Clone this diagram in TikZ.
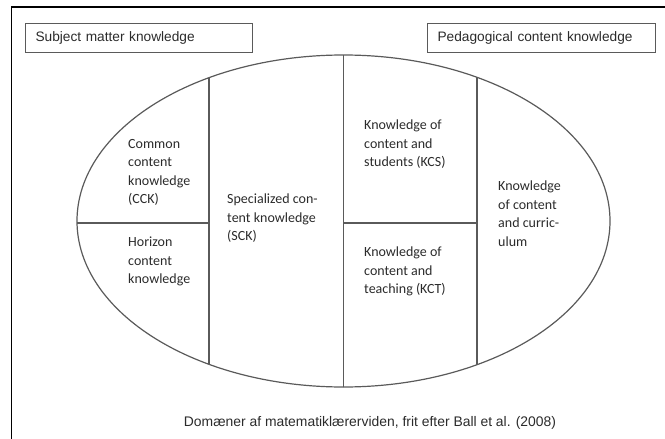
\documentclass[tikz,border=0pt]{standalone}
\usepackage{fontspec}
\setmainfont{Carlito}
\newfontfamily\arialfont{Liberation Sans}
\usetikzlibrary{positioning}
\definecolor{linegray}{HTML}{5A5A5A}
\definecolor{textgray}{HTML}{2B2B2B}
\tikzset{
  tag/.style={draw=linegray, line width=1.1pt, text width=207pt, minimum height=29pt,
              inner xsep=10pt, inner ysep=0pt, align=left,
              font=\arialfont\fontsize{13.7}{16}\selectfont, text=textgray,
              anchor=north west},
  cell/.style={align=left, anchor=north west, inner sep=0pt, text=textgray,
               font=\fontsize{14}{18.5}\selectfont},
  part/.style={draw=linegray, line width=1.2pt},
}
\begin{document}
\begin{tikzpicture}[x=1pt, y=-1pt]
  \useasboundingbox (0,0) rectangle (665,439);
  % outer frame, cut at right and bottom
  \draw[line width=1.8pt] (11.5,439) -- (11.5,7) -- (665,7);

  % headings
  \node[tag] (smk) at (25,23) {Subject matter knowledge};
  \node[tag, text width=208pt] (pck) at (427,23) {Pedagogical content knowledge};

  % the ellipse and its parts
  \coordinate (mid) at (343.5,221);
  \draw[part] (mid) ellipse (266.5 and 166);
  \begin{scope}
    \clip (mid) ellipse (266.5 and 166);
    \foreach \x in {209, 343.5, 477}
      \draw[part] (\x,0) -- (\x,439);
    \draw[part] (0,223) -- (209,223);
    \draw[part] (343.5,223) -- (477,223);
  \end{scope}

  % labels
  \node[cell] (cck) at (128,139) {Common\\content\\knowledge\\(CCK)};
  \node[cell] (hck) at (128,237) {Horizon\\content\\knowledge};
  \node[cell] (sck) at (227,194) {Specialized con-\\tent knowledge\\(SCK)};
  \node[cell] (kcs) at (364,120) {Knowledge of\\content and\\students (KCS)};
  \node[cell] (kct) at (364,247) {Knowledge of\\content and\\teaching (KCT)};
  \node[cell] (kcc) at (498,181) {Knowledge\\of content\\and curric-\\ulum};

  \node[font=\arialfont\fontsize{13.9}{16}\selectfont, text=textgray]
    (cap) at (370,423) {Domæner af matematiklærerviden, frit efter Ball et al. (2008)};
\end{tikzpicture}
\end{document}
